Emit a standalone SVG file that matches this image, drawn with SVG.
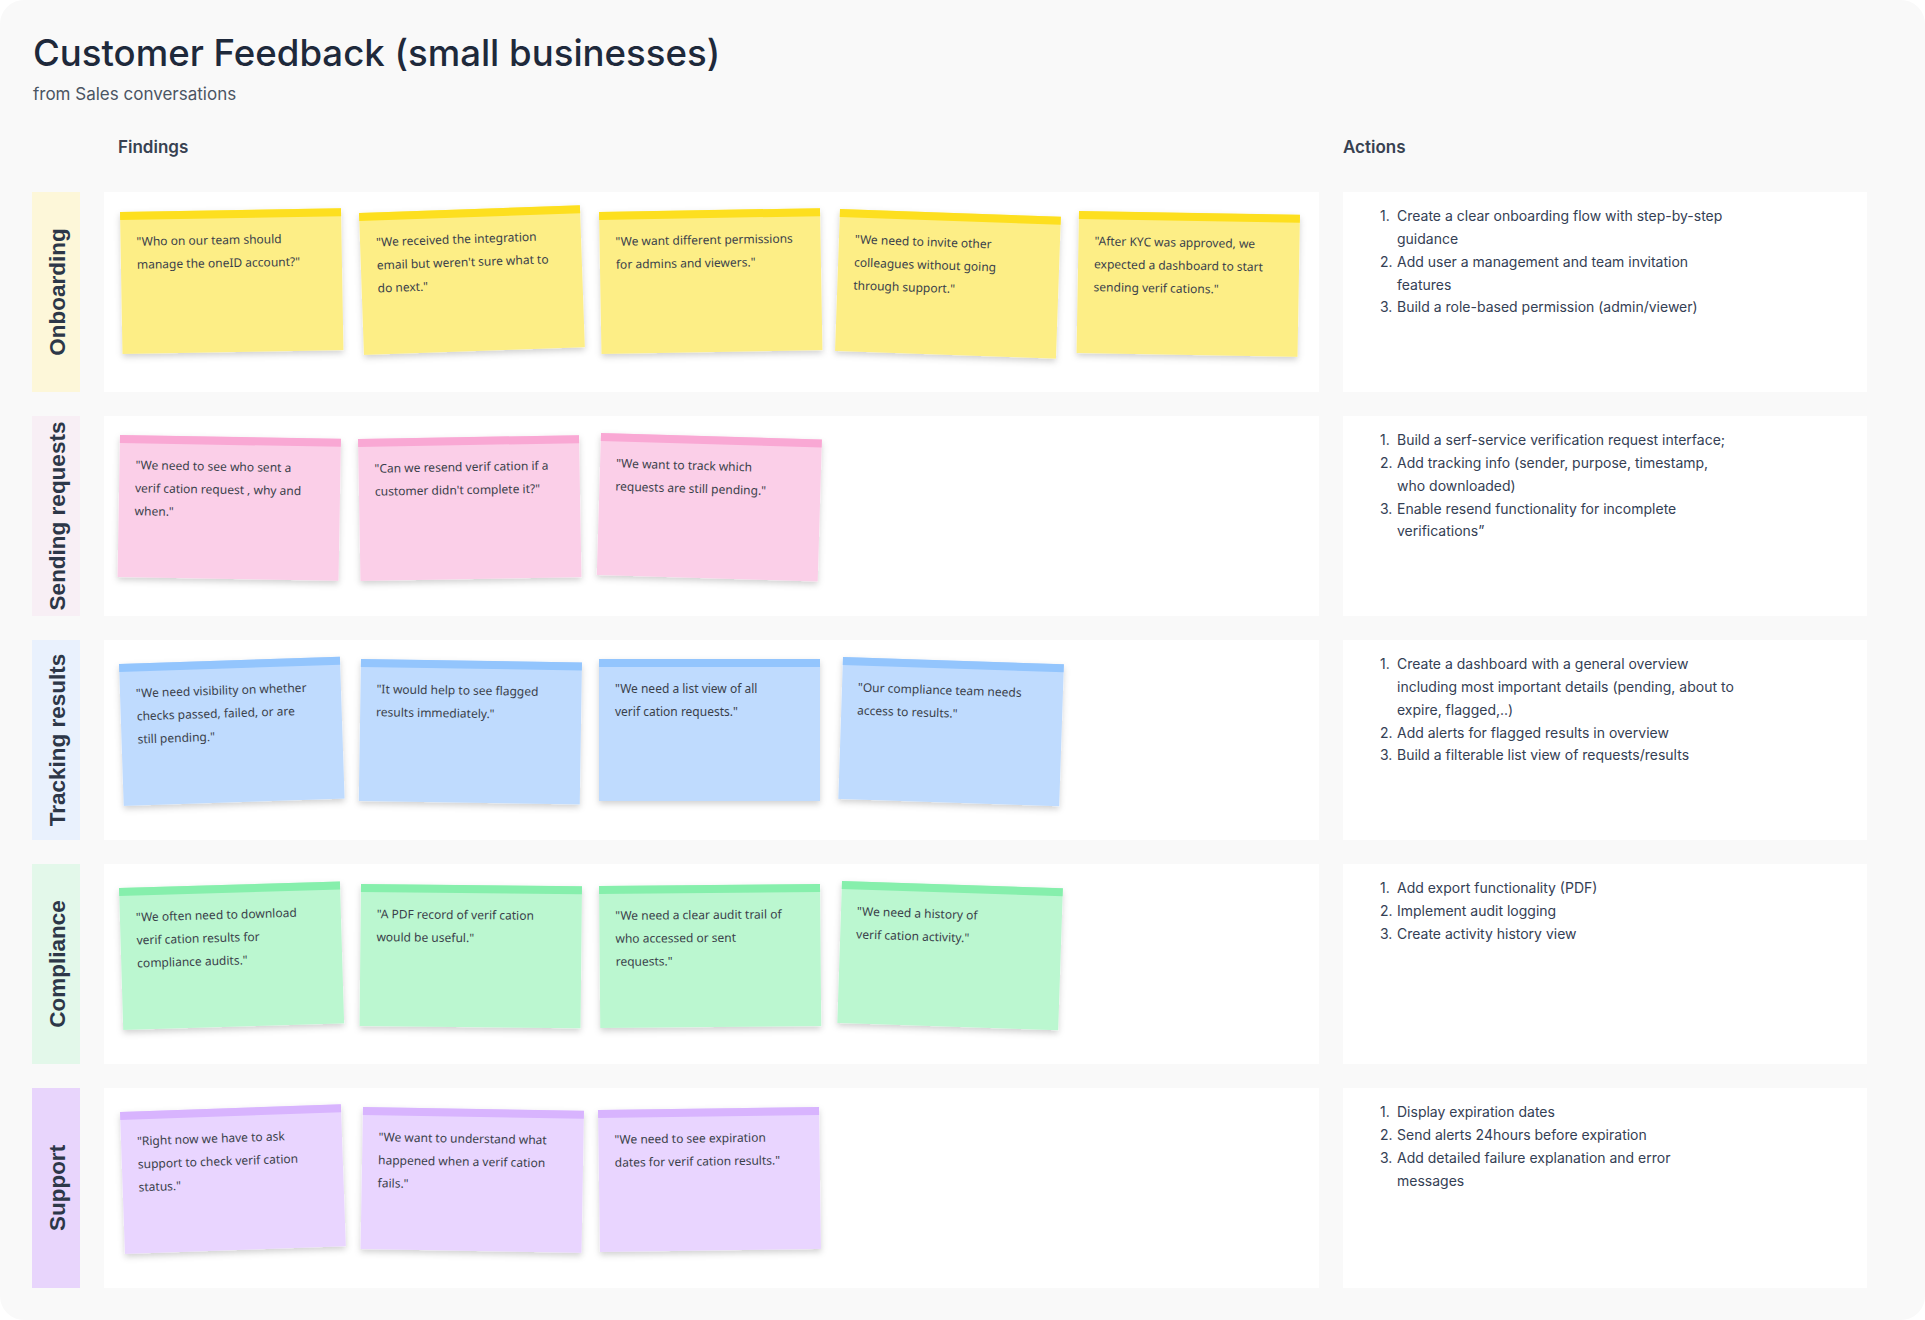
<svg xmlns="http://www.w3.org/2000/svg" width="1925" height="1320" viewBox="0 0 1925 1320">
<defs>
<style>
.title{font-family:Inter,"Liberation Sans",sans-serif;font-size:36.6px;font-weight:500;fill:#1e293b}
.sub{font-family:Inter,"Liberation Sans",sans-serif;font-size:17px;fill:#4b5563}
.head{font-family:Inter,"Liberation Sans",sans-serif;font-size:17px;font-weight:600;fill:#374151}
.panel{fill:#ffffff}
.lbl{font-family:"Liberation Sans",Arial,sans-serif;font-size:22.5px;font-weight:700;fill:#2d3748}
.act{font-family:Inter,"Liberation Sans",sans-serif;font-size:14px;fill:#344054}
.note{font-family:"Noto Sans","Liberation Sans",sans-serif;font-size:12px;fill:#3a3f4a}
.y .b{fill:#fdee86}.y .t{fill:#fddf1f}
.p .b{fill:#fbcfe8}.p .t{fill:#f9a8d4}
.bl .b{fill:#bfdbfe}.bl .t{fill:#93c5fd}
.g .b{fill:#bbf7d0}.g .t{fill:#86efac}
.v .b{fill:#e9d5ff}.v .t{fill:#d8b4fe}
</style>
<filter id="sh" x="-10%" y="-10%" width="120%" height="130%">
<feDropShadow dx="0" dy="3" stdDeviation="3" flood-color="#000" flood-opacity="0.18"/>
</filter>
</defs>
<rect width="1925" height="1320" fill="#ffffff"/>
<rect x="0" y="0" width="1925" height="1320" rx="24" fill="#f9f9f9"/>

<g id="header">
<text class="title" x="33" y="66">Customer Feedback (small businesses)</text>
<text class="sub" x="33" y="100">from Sales conversations</text>
<text class="head" x="118" y="153">Findings</text>
<text class="head" x="1343" y="153">Actions</text>
</g>

<!-- Row labels -->
<g id="label-onboarding"><rect x="32" y="192" width="48" height="200" fill="#fdf7d9"/><text class="lbl" transform="translate(65,292) rotate(-90)" text-anchor="middle">Onboarding</text></g>
<g id="label-sending"><rect x="32" y="416" width="48" height="200" fill="#f8eff5"/><text class="lbl" transform="translate(65,516) rotate(-90)" text-anchor="middle">Sending requests</text></g>
<g id="label-tracking"><rect x="32" y="640" width="48" height="200" fill="#e9f1fd"/><text class="lbl" transform="translate(65,740) rotate(-90)" text-anchor="middle">Tracking results</text></g>
<g id="label-compliance"><rect x="32" y="864" width="48" height="200" fill="#e3f8ea"/><text class="lbl" transform="translate(65,964) rotate(-90)" text-anchor="middle">Compliance</text></g>
<g id="label-support"><rect x="32" y="1088" width="48" height="200" fill="#e8d5fc"/><text class="lbl" transform="translate(65,1188) rotate(-90)" text-anchor="middle">Support</text></g>

<!-- Findings panels -->
<g id="findings-panels">
<rect class="panel" x="104" y="192" width="1215" height="200"/>
<rect class="panel" x="104" y="416" width="1215" height="200"/>
<rect class="panel" x="104" y="640" width="1215" height="200"/>
<rect class="panel" x="104" y="864" width="1215" height="200"/>
<rect class="panel" x="104" y="1088" width="1215" height="200"/>
</g>

<!-- Onboarding stickies -->
<g id="note-onb-1" class="y" transform="translate(120,212) rotate(-1)"><g filter="url(#sh)"><rect class="b" width="221" height="142"/></g><rect class="t" width="221" height="8"/><text class="note" x="16" y="34">"Who on our team should<tspan x="16" dy="23">manage the oneID account?"</tspan></text></g>
<g id="note-onb-2" class="y" transform="translate(359,213) rotate(-2)"><g filter="url(#sh)"><rect class="b" width="221" height="142"/></g><rect class="t" width="221" height="8"/><text class="note" x="16" y="34">"We received the integration<tspan x="16" dy="23">email but weren't sure what to</tspan><tspan x="16" dy="23">do next."</tspan></text></g>
<g id="note-onb-3" class="y" transform="translate(599,212) rotate(-1)"><g filter="url(#sh)"><rect class="b" width="221" height="142"/></g><rect class="t" width="221" height="8"/><text class="note" x="16" y="34">"We want different permissions<tspan x="16" dy="23">for admins and viewers."</tspan></text></g>
<g id="note-onb-4" class="y" transform="translate(840,209) rotate(2)"><g filter="url(#sh)"><rect class="b" width="221" height="142"/></g><rect class="t" width="221" height="8"/><text class="note" x="16" y="34">"We need to invite other<tspan x="16" dy="23">colleagues without going</tspan><tspan x="16" dy="23">through support."</tspan></text></g>
<g id="note-onb-5" class="y" transform="translate(1079,211) rotate(1)"><g filter="url(#sh)"><rect class="b" width="221" height="142"/></g><rect class="t" width="221" height="8"/><text class="note" x="16" y="34">"After KYC was approved, we<tspan x="16" dy="23">expected a dashboard to start</tspan><tspan x="16" dy="23">sending verif cations."</tspan></text></g>

<!-- Sending stickies -->
<g id="note-snd-1" class="p" transform="translate(120,435) rotate(1)"><g filter="url(#sh)"><rect class="b" width="221" height="142"/></g><rect class="t" width="221" height="8"/><text class="note" x="16" y="34">"We need to see who sent a<tspan x="16" dy="23">verif cation request , why and</tspan><tspan x="16" dy="23">when."</tspan></text></g>
<g id="note-snd-2" class="p" transform="translate(358,439) rotate(-1)"><g filter="url(#sh)"><rect class="b" width="221" height="142"/></g><rect class="t" width="221" height="8"/><text class="note" x="16" y="34">"Can we resend verif cation if a<tspan x="16" dy="23">customer didn't complete it?"</tspan></text></g>
<g id="note-snd-3" class="p" transform="translate(601,433) rotate(1.7)"><g filter="url(#sh)"><rect class="b" width="221" height="142"/></g><rect class="t" width="221" height="8"/><text class="note" x="16" y="34">"We want to track which<tspan x="16" dy="23">requests are still pending."</tspan></text></g>

<!-- Tracking stickies -->
<g id="note-trk-1" class="bl" transform="translate(119,664) rotate(-1.9)"><g filter="url(#sh)"><rect class="b" width="221" height="142"/></g><rect class="t" width="221" height="8"/><text class="note" x="16" y="34">"We need visibility on whether<tspan x="16" dy="23">checks passed, failed, or are</tspan><tspan x="16" dy="23">still pending."</tspan></text></g>
<g id="note-trk-2" class="bl" transform="translate(361,659) rotate(0.9)"><g filter="url(#sh)"><rect class="b" width="221" height="142"/></g><rect class="t" width="221" height="8"/><text class="note" x="16" y="34">"It would help to see flagged<tspan x="16" dy="23">results immediately."</tspan></text></g>
<g id="note-trk-3" class="bl" transform="translate(599,659) rotate(0)"><g filter="url(#sh)"><rect class="b" width="221" height="142"/></g><rect class="t" width="221" height="8"/><text class="note" x="16" y="34">"We need a list view of all<tspan x="16" dy="23">verif cation requests."</tspan></text></g>
<g id="note-trk-4" class="bl" transform="translate(843,657) rotate(1.9)"><g filter="url(#sh)"><rect class="b" width="221" height="142"/></g><rect class="t" width="221" height="8"/><text class="note" x="16" y="34">"Our compliance team needs<tspan x="16" dy="23">access to results."</tspan></text></g>

<!-- Compliance stickies -->
<g id="note-cmp-1" class="g" transform="translate(119,888) rotate(-1.7)"><g filter="url(#sh)"><rect class="b" width="221" height="142"/></g><rect class="t" width="221" height="8"/><text class="note" x="16" y="34">"We often need to download<tspan x="16" dy="23">verif cation results for</tspan><tspan x="16" dy="23">compliance audits."</tspan></text></g>
<g id="note-cmp-2" class="g" transform="translate(361,884) rotate(0.6)"><g filter="url(#sh)"><rect class="b" width="221" height="142"/></g><rect class="t" width="221" height="8"/><text class="note" x="16" y="34">"A PDF record of verif cation<tspan x="16" dy="23">would be useful."</tspan></text></g>
<g id="note-cmp-3" class="g" transform="translate(599,886) rotate(-0.5)"><g filter="url(#sh)"><rect class="b" width="221" height="142"/></g><rect class="t" width="221" height="8"/><text class="note" x="16" y="34">"We need a clear audit trail of<tspan x="16" dy="23">who accessed or sent</tspan><tspan x="16" dy="23">requests."</tspan></text></g>
<g id="note-cmp-4" class="g" transform="translate(842,881) rotate(1.9)"><g filter="url(#sh)"><rect class="b" width="221" height="142"/></g><rect class="t" width="221" height="8"/><text class="note" x="16" y="34">"We need a history of<tspan x="16" dy="23">verif cation activity."</tspan></text></g>

<!-- Support stickies -->
<g id="note-sup-1" class="v" transform="translate(120,1112) rotate(-2)"><g filter="url(#sh)"><rect class="b" width="221" height="142"/></g><rect class="t" width="221" height="8"/><text class="note" x="16" y="34">"Right now we have to ask<tspan x="16" dy="23">support to check verif cation</tspan><tspan x="16" dy="23">status."</tspan></text></g>
<g id="note-sup-2" class="v" transform="translate(363,1107) rotate(1)"><g filter="url(#sh)"><rect class="b" width="221" height="142"/></g><rect class="t" width="221" height="8"/><text class="note" x="16" y="34">"We want to understand what<tspan x="16" dy="23">happened when a verif cation</tspan><tspan x="16" dy="23">fails."</tspan></text></g>
<g id="note-sup-3" class="v" transform="translate(598,1110) rotate(-0.8)"><g filter="url(#sh)"><rect class="b" width="221" height="142"/></g><rect class="t" width="221" height="8"/><text class="note" x="16" y="34">"We need to see expiration<tspan x="16" dy="23">dates for verif cation results."</tspan></text></g>

<!-- Actions -->
<g id="actions-onboarding">
<rect class="panel" x="1343" y="192" width="524" height="200"/>
<text class="act"><tspan x="1380" y="221">1.</tspan><tspan x="1397" y="221">Create a clear onboarding flow with step-by-step</tspan><tspan x="1397" y="244">guidance</tspan><tspan x="1380" y="267">2.</tspan><tspan x="1397" y="267">Add user a management and team invitation</tspan><tspan x="1397" y="290">features</tspan><tspan x="1380" y="312">3.</tspan><tspan x="1397" y="312">Build a role-based permission (admin/viewer)</tspan></text>
</g>
<g id="actions-sending">
<rect class="panel" x="1343" y="416" width="524" height="200"/>
<text class="act"><tspan x="1380" y="445">1.</tspan><tspan x="1397" y="445">Build a serf-service verification request interface;</tspan><tspan x="1380" y="468">2.</tspan><tspan x="1397" y="468">Add tracking info (sender, purpose, timestamp,</tspan><tspan x="1397" y="491">who downloaded)</tspan><tspan x="1380" y="514">3.</tspan><tspan x="1397" y="514">Enable resend functionality for incomplete</tspan><tspan x="1397" y="536">verifications”</tspan></text>
</g>
<g id="actions-tracking">
<rect class="panel" x="1343" y="640" width="524" height="200"/>
<text class="act"><tspan x="1380" y="669">1.</tspan><tspan x="1397" y="669">Create a dashboard with a general overview</tspan><tspan x="1397" y="692">including most important details (pending, about to</tspan><tspan x="1397" y="715">expire, flagged,..)</tspan><tspan x="1380" y="738">2.</tspan><tspan x="1397" y="738">Add alerts for flagged results in overview</tspan><tspan x="1380" y="760">3.</tspan><tspan x="1397" y="760">Build a filterable list view of requests/results</tspan></text>
</g>
<g id="actions-compliance">
<rect class="panel" x="1343" y="864" width="524" height="200"/>
<text class="act"><tspan x="1380" y="893">1.</tspan><tspan x="1397" y="893">Add export functionality (PDF)</tspan><tspan x="1380" y="916">2.</tspan><tspan x="1397" y="916">Implement audit logging</tspan><tspan x="1380" y="939">3.</tspan><tspan x="1397" y="939">Create activity history view</tspan></text>
</g>
<g id="actions-support">
<rect class="panel" x="1343" y="1088" width="524" height="200"/>
<text class="act"><tspan x="1380" y="1117">1.</tspan><tspan x="1397" y="1117">Display expiration dates</tspan><tspan x="1380" y="1140">2.</tspan><tspan x="1397" y="1140">Send alerts 24hours before expiration</tspan><tspan x="1380" y="1163">3.</tspan><tspan x="1397" y="1163">Add detailed failure explanation and error</tspan><tspan x="1397" y="1186">messages</tspan></text>
</g>

<g id="connectors"/>
</svg>
